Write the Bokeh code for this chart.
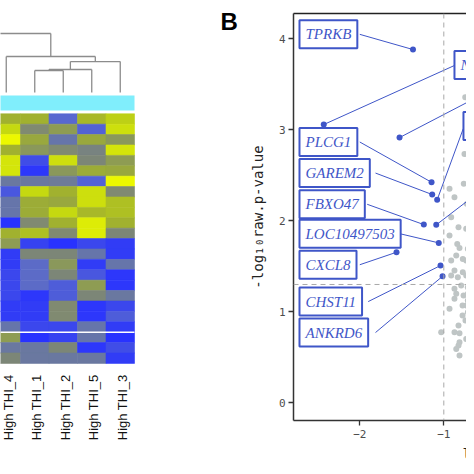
import math
from bokeh.plotting import figure
from bokeh.layouts import row
from bokeh.models import (Range1d, LinearAxis, Label, Span, ColumnDataSource,
                          LinearColorMapper, FixedTicker, Title)
from bokeh.core.properties import value
from bokeh.embed import file_html
from bokeh.resources import INLINE

# ---------------- Data: panel A (heatmap, right part visible) ----------------
samples = ["High THI_4", "High THI_1", "High THI_2", "High THI_5", "High THI_3"]
annot_group = "High THI"
# z-scores, rows top -> bottom, columns in the order of `samples`
heat_z = [
    [1.0, 1.0, -1.0, 1.1, 1.4],
    [1.5, 0.1, 0.5, -1.1, 1.6],
    [2.0, 0.8, -0.6, 0.8, 0.4],
    [1.0, 0.4, 0.1, -0.1, 1.7],
    [1.7, -1.5, 1.6, 0.0, 0.5],
    [1.7, -1.9, 0.4, 0.9, 0.8],
    [-0.5, -0.5, -0.4, -1.1, 2.0],
    [-1.3, 1.5, 1.0, 1.6, 0.1],
    [-0.6, 0.9, 0.8, 1.6, 1.2],
    [-0.6, 0.9, 1.5, 1.1, 1.2],
    [-2.0, 0.1, 1.0, 1.8, 1.0],
    [1.0, 1.2, 0.1, 1.8, 0.0],
    [0.5, -1.7, -2.0, -1.6, -1.8],
    [-1.8, 0.0, 0.0, -0.6, -1.8],
    [-1.8, -0.9, 0.4, -1.8, -0.6],
    [-1.6, -0.9, 0.0, -1.3, -1.9],
    [-1.6, -0.9, -1.2, 0.5, -1.9],
    [-1.6, -1.9, -1.2, 0.0, -0.5],
    [-1.8, -1.8, 0.1, -1.9, -1.6],
    [-1.8, -1.8, 0.1, -1.9, -1.2],
    [-0.6, -1.6, -1.6, -0.6, -1.8],
    [0.5, -2.0, -1.7, -0.6, -2.0],
    [-0.5, -0.5, 0.0, -1.9, -1.5],
    [0.0, -0.5, -0.5, -0.5, -1.8],
]
row_cut_after = 21          # white separator line drawn above the last 3 rows
# dendrogram merges: (left, right, height); leaves s0..s4 follow `samples`
dend_merges = [
    ("s1", "s2", 0.373),
    ("m0", "s3", 0.390),
    ("m1", "s4", 0.525),
    ("s0", "m2", 0.610),
    ("low", "m3", 1.000),
]
off_cluster = {"low": (-2.5, 0.80)}   # cluster of the other group, outside the view

# ---------------- Data: panel B (volcano) ----------------
gray_lfc = [-0.745, -0.754, -0.932, -0.762, -0.873, -0.726, -0.912, -0.825, -0.733, -0.694,
            -0.932, -0.674, -0.840, -0.813, -0.714, -0.674, -0.852, -0.774, -0.733, -0.912,
            -0.674, -0.873, -0.774, -0.694, -0.912, -0.833, -0.733, -0.674, -0.793, -0.873,
            -0.714, -0.852, -0.714, -0.873, -0.714, -0.674, -0.714, -0.932, -0.674, -0.694,
            -0.825, -1.031, -0.873, -0.813, -0.733, -0.813, -0.852, -0.825, -0.813, -0.674,
            -0.765, -0.730, -0.777, -0.742, -0.659, -0.659, -0.777, -0.682]
gray_logp = [3.358, 2.734, 2.352, 2.407, 2.259, 2.187, 2.040, 1.930, 1.912, 1.875,
             1.838, 1.765, 1.747, 1.703, 1.692, 1.619, 1.619, 1.582, 1.564, 1.564,
             1.527, 1.454, 1.435, 1.473, 1.399, 1.380, 1.399, 1.344, 1.289, 1.253,
             1.270, 1.198, 1.198, 1.143, 1.124, 1.051, 0.996, 1.033, 0.941, 0.886,
             0.849, 0.776, 0.776, 0.765, 0.703, 0.666, 0.593, 0.630, 0.520, 0.374,
             1.179, 1.070, 0.960, 0.905, 1.168, 0.838, 1.070, 1.235]
hl_genes = ["TPRKB", "NT5E", "", "ATF3", "PLCG1", "GAREM2", "FBXO47", "",
            "LOC10497503", "CXCL8", "CHST11", "ANKRD6"]
hl_lfc = [-1.367, -2.429, -1.527, -1.079, -1.146, -1.138, -1.238, -1.090,
          -1.060, -1.563, -1.039, -1.015]
hl_logp = [3.882, 3.058, 2.915, 2.231, 2.424, 2.289, 1.959, 1.956,
           1.758, 1.655, 1.509, 1.391]
fc_cut = -1.0
p_cut = 0.05
x_ticks = [-2, -1, 0, 1, 2]
y_ticks = [0, 1, 2, 3, 4]

# label layout (repel boxes): box left edge / centre, and segment start on the box
lab_x = [-2.718, -0.873, None, -0.766, -2.718, -2.718, -2.718, None, -2.718, -2.718, -2.718, -2.718]
lab_y = [4.049, 3.712, None, 3.042, 2.866, 2.525, 2.182, None, 1.857, 1.518, 1.113, 0.773]
seg_x0 = [-2.0, -0.873, -0.325, -0.769, -2.0, -1.813, -1.912, -0.325, -1.515, -2.0, -1.9, -1.813]
seg_y0 = [4.049, 3.707, 3.492, 3.011, 2.866, 2.525, 2.182, 2.497, 1.857, 1.518, 1.113, 0.773]

# ---------------- styles ----------------
BLUE = "#3f56c8"
GRAY_PT = "#bfc5c5"

anchors = [(-2, (40, 50, 255)), (-1, (88, 104, 208)), (-0.5, (106, 120, 160)),
           (0, (124, 134, 120)), (0.5, (142, 156, 84)), (1, (160, 176, 48)),
           (1.5, (196, 216, 16)), (2, (236, 248, 0))]
palette = []
for k in range(256):
    v = -2 + 4 * k / 255
    for (a, ca), (b, cb) in zip(anchors[:-1], anchors[1:]):
        if a <= v <= b:
            t = (v - a) / (b - a)
            c = tuple(int(round(ca[i] + t * (cb[i] - ca[i]))) for i in range(3))
            palette.append("#%02x%02x%02x" % c)
            break
mapper = LinearColorMapper(palette=palette, low=-2, high=2)

# ---------------- Panel A figure ----------------
HM_W, HM_H = 240, 466
CW = 28.5            # px per column
X0PX = -8.5          # px position of the left edge of column 0
RH = 10.4            # px per row
HB = 362.9           # px (from top) of the heatmap bottom
nrows = len(heat_z)
xr = Range1d((0 - X0PX) / CW, (HM_W - X0PX) / CW)
yr = Range1d(-(HM_H - HB) / RH, HB / RH)
ph = figure(width=HM_W, height=HM_H, x_range=xr, y_range=yr, output_backend="svg",
            toolbar_location=None, x_axis_location=None, y_axis_location=None,
            min_border=0, outline_line_color=None, frame_align=False)
ph.grid.visible = False
D0PX, DPX = 92, 59
ph.extra_y_ranges = {"dend": Range1d(-(HM_H - D0PX) / DPX, D0PX / DPX)}

xs, ys, zs = [], [], []
for r, vals in enumerate(heat_z):
    for c, z in enumerate(vals):
        xs.append(c + 0.5)
        ys.append(nrows - r - 0.5)
        zs.append(z)
src = ColumnDataSource(dict(x=xs, y=ys, z=zs))
ph.rect("x", "y", 1, 1, source=src, fill_color={"field": "z", "transform": mapper},
        line_color={"field": "z", "transform": mapper}, line_width=0.6)
# separator
ph.segment(x0=[-3], y0=[nrows - row_cut_after], x1=[len(samples)], y1=[nrows - row_cut_after],
           line_color="white", line_width=1.6)
# annotation bar
bar_lo, bar_hi = (HB - 110) / RH, (HB - 95) / RH
ph.rect(x=[(len(samples) - 6) / 2], y=[(bar_lo + bar_hi) / 2], width=[len(samples) + 6],
        height=[bar_hi - bar_lo], fill_color="#80eefc", line_color=None)
# dendrogram
pos = {f"s{i}": (i + 0.5, 0.0) for i in range(len(samples))}
pos.update(off_cluster)
dx0, dy0, dx1, dy1 = [], [], [], []
for k, (a, b, h) in enumerate(dend_merges):
    xa, ha = pos[a]
    xb, hb = pos[b]
    dx0 += [xa, xb, xa]; dy0 += [ha, hb, h]
    dx1 += [xa, xb, xb]; dy1 += [h, h, h]
    pos[f"m{k}"] = ((xa + xb) / 2, h)
ph.segment(dx0, dy0, dx1, dy1, y_range_name="dend", line_color="#8c8c8c", line_width=1.3)
# sample labels
lab_anchor = -(374 - HB) / RH
ph.text(x=[i + 0.5 for i in range(len(samples))], y=[lab_anchor] * len(samples), text=samples,
        angle=math.pi / 2, text_align="right", text_baseline="middle", x_offset=2,
        text_font=value("Liberation Sans"), text_font_size="13px", text_color="#111111")
# panel tag
ph.text(x=[(220 - X0PX) / CW], y=[(HB - 21) / RH], text=["B"], text_align="left",
        text_baseline="middle", text_font=value("Liberation Sans"), text_font_size="24px",
        text_font_style="bold", text_color="black")

# ---------------- Panel B figure ----------------
VW, VH = 226, 466
pv = figure(width=VW, height=VH, x_range=Range1d(-2.7893, -0.7298), y_range=Range1d(-0.1934, 4.278),
            output_backend="svg", toolbar_location=None, min_border_left=53, min_border_right=0,
            min_border_top=13, min_border_bottom=46, outline_line_color=None, frame_align=False)
pv.grid.visible = False
for ax, ticks in ((pv.xaxis[0], x_ticks), (pv.yaxis[0], y_ticks)):
    ax.ticker = FixedTicker(ticks=ticks)
    ax.minor_tick_line_color = None
    ax.major_tick_in = 0
    ax.major_tick_out = 5
    ax.major_tick_line_color = "#333333"
    ax.major_tick_line_width = 1.3
    ax.axis_line_color = "#333333"
    ax.axis_line_width = 1.5
    ax.major_label_text_font = "DejaVu Sans Mono"
    ax.major_label_text_font_size = "11px"
    ax.major_label_text_color = "#4d4d4d"
pv.xaxis.major_label_standoff = 4
pv.yaxis.major_label_standoff = 3
pv.yaxis.axis_label = "-log\u2081\u2080raw.p-value"
pv.yaxis.axis_label_text_font = "DejaVu Sans Mono"
pv.yaxis.axis_label_text_font_size = "14px"
pv.yaxis.axis_label_text_font_style = "normal"
pv.yaxis.axis_label_text_color = "#222222"
pv.yaxis.axis_label_standoff = 10
top = LinearAxis(ticker=FixedTicker(ticks=[]), major_tick_line_color=None,
                 minor_tick_line_color=None, major_label_standoff=0,
                 axis_line_color="#222222", axis_line_width=1.5)
pv.add_layout(top, "above")
pv.add_layout(Title(text="log\u2082FoldChange", align="left", offset=169, standoff=7,
                    text_font="DejaVu Sans Mono", text_font_size="14px",
                    text_font_style="normal", text_color="#222222"), "below")

pv.add_layout(Span(location=fc_cut, dimension="height", line_color="#a8a8a8",
                   line_dash="5 4", line_width=1))
pv.add_layout(Span(location=-math.log10(p_cut), dimension="width", line_color="#a8a8a8",
                   line_dash="5 4", line_width=1))
pv.scatter(gray_lfc, gray_logp, size=6, fill_color=GRAY_PT, line_color=None)
pv.segment(seg_x0, seg_y0, hl_lfc, hl_logp, line_color=BLUE, line_width=1)
pv.scatter(hl_lfc, hl_logp, size=6, fill_color=BLUE, line_color=None)
for g, lx, ly in zip(hl_genes, lab_x, lab_y):
    if not g:
        continue
    pv.add_layout(Label(x=lx, y=ly, text=g, text_align="left", text_baseline="middle",
                        text_font="Liberation Serif", text_font_style="italic",
                        text_font_size="15px", text_color=BLUE,
                        border_line_color=BLUE, border_line_width=2,
                        background_fill_color="white", padding=6))

layout = row(ph, pv)
open("out.html", "w").write(file_html(layout, INLINE))
